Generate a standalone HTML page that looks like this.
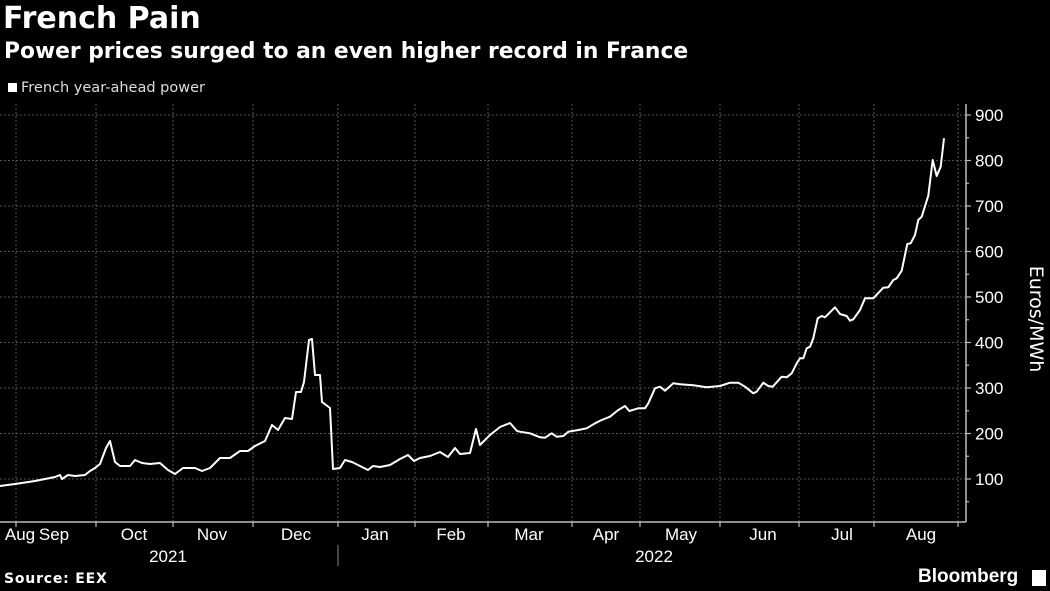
<!DOCTYPE html>
<html><head><meta charset="utf-8"><style>
html,body{margin:0;padding:0;background:#000;}
body{width:1050px;height:591px;overflow:hidden;position:relative;font-family:"Liberation Sans",sans-serif;color:#fff;}
.t{position:absolute;white-space:nowrap;}
</style></head><body>
<div class="t" style="left:3px;top:1px;font-size:30px;font-weight:bold;font-family:'DejaVu Sans',sans-serif;">French Pain</div>
<div class="t" style="left:4px;top:39px;font-size:21.8px;font-weight:bold;font-family:'DejaVu Sans',sans-serif;">Power prices surged to an even higher record in France</div>
<div class="t" style="left:8px;top:80px;font-size:14.5px;color:#ddd;font-family:'DejaVu Sans',sans-serif;"><span style="display:inline-block;width:9px;height:9px;background:#fff;margin-right:4px;"></span>French year-ahead power</div>
<svg id="s" width="1050" height="591" style="position:absolute;left:0;top:0;">
<g id="g" stroke="#555" stroke-width="1" stroke-dasharray="2,2" fill="none"></g>
<line x1="0" y1="522" x2="966" y2="522" stroke="#bbb" stroke-width="1.5"/>
<line x1="966" y1="104" x2="966" y2="522" stroke="#bbb" stroke-width="1.5"/>
<g id="tk" stroke="#bbb" stroke-width="1.2"></g>
<line x1="338" y1="545" x2="338" y2="566" stroke="#888"/>
<path id="p" fill="none" stroke="#fff" stroke-width="2" stroke-linejoin="round"/>
<g font-family="Liberation Sans,sans-serif" font-size="17" fill="#fff" id="lbl"></g>
<text transform="translate(1030,319) rotate(90)" text-anchor="middle" font-family="DejaVu Sans,sans-serif" font-size="19" fill="#fff">Euros/MWh</text>
</svg>
<div class="t" style="left:4px;top:571px;font-size:14px;font-weight:bold;font-family:'DejaVu Sans',sans-serif;letter-spacing:0.8px;">Source: EEX</div>
<div class="t" style="left:918px;top:566px;font-size:19px;font-weight:bold;">Bloomberg</div>
<div class="t" style="left:1032px;top:570px;width:14px;height:16px;background:#fff;"></div>
<script>
var yv=function(v){return 479-(v-100)*0.455;};
var g=document.getElementById('g'),tk=document.getElementById('tk'),lb=document.getElementById('lbl');
var ns='http://www.w3.org/2000/svg';
function el(p,n,a){var e=document.createElementNS(ns,n);for(var k in a)e.setAttribute(k,a[k]);p.appendChild(e);return e;}
[16,96,173,253,338,415,488,572,640,720,799,874,958].forEach(function(x){el(g,'line',{x1:x,y1:104,x2:x,y2:522});el(tk,'line',{x1:x,y1:522,x2:x,y2:527});});
for(var v=100;v<=900;v+=100){var y=yv(v);el(g,'line',{x1:0,y1:y,x2:966,y2:y});el(tk,'line',{x1:966,y1:y,x2:971,y2:y});var t=el(lb,'text',{x:975,y:y+6});t.textContent=v;}
for(var v=50;v<=850;v+=100){var y=yv(v);el(tk,'line',{x1:966,y1:y,x2:969,y2:y});}
[['Aug',20],['Sep',54],['Oct',134],['Nov',212],['Dec',296],['Jan',375],['Feb',451],['Mar',529],['Apr',606],['May',681],['Jun',763],['Jul',842],['Aug',921]].forEach(function(m){var t=el(lb,'text',{x:m[1],y:540,'text-anchor':'middle'});t.textContent=m[0];});
[['2021',168],['2022',654]].forEach(function(m){var t=el(lb,'text',{x:m[1],y:562,'text-anchor':'middle'});t.textContent=m[0];});
var a=[[0,486],[15,484],[35,481],[55,477],[60,475],[62,479],[68,475],[75,476],[85,475],[90,471],[95,468],[100,464],[106,448],[110,441],[115,462],[120,466],[130,466],[135,460],[142,463],[150,464],[160,463],[168,470],[175,474],[183,468],[195,468],[202,471],[210,468],[220,458],[230,458],[240,451],[248,451],[255,446],[265,441],[272,425],[278,430],[285,418],[292,419],[296,392],[301,392],[304,382],[309,340],[312,339],[315,375],[320,375],[322,402],[330,408],[333,469],[340,468],[345,460],[352,462],[360,466],[368,470],[373,466],[380,467],[390,465],[400,459],[408,455],[414,461],[420,458],[430,456],[440,452],[448,457],[455,448],[460,454],[470,453],[476,429],[480,445],[490,435],[500,427],[510,423],[517,431]];
var b=[[0,995],[30,1000],[60,1012],[75,1013],[95,1000],[110,1010],[130,1008],[145,995],[175,990],[200,985],[225,970],[245,960],[270,950],[295,930],[315,918],[328,933],[355,925],[375,925],[385,910],[405,865],[420,860],[435,872],[460,850],[480,853],[520,856],[560,862],[600,858],[630,848],[655,848],[675,860],[700,880],[710,875],[730,848],[745,858],[758,860],[785,830],[800,832],[815,820],[830,790],[840,775],[850,775],[860,745],[870,740],[880,715],[893,655],[905,648],[915,652],[945,622],[960,642],[980,648],[990,662],[1000,658],[1020,630],[1035,595],[1060,595],[1090,563],[1105,562],[1120,540],[1130,535],[1145,512],[1162,432],[1172,430],[1185,405],[1195,360],[1205,350],[1225,287],[1238,180],[1250,228],[1262,200],[1272,115]];
var pts=a.concat(b.map(function(p){return [520+p[0]/3,100+p[1]/3];}));
document.getElementById('p').setAttribute('d','M'+pts.map(function(p){return p[0].toFixed(1)+','+p[1].toFixed(1);}).join('L'));
</script>
</body></html>
